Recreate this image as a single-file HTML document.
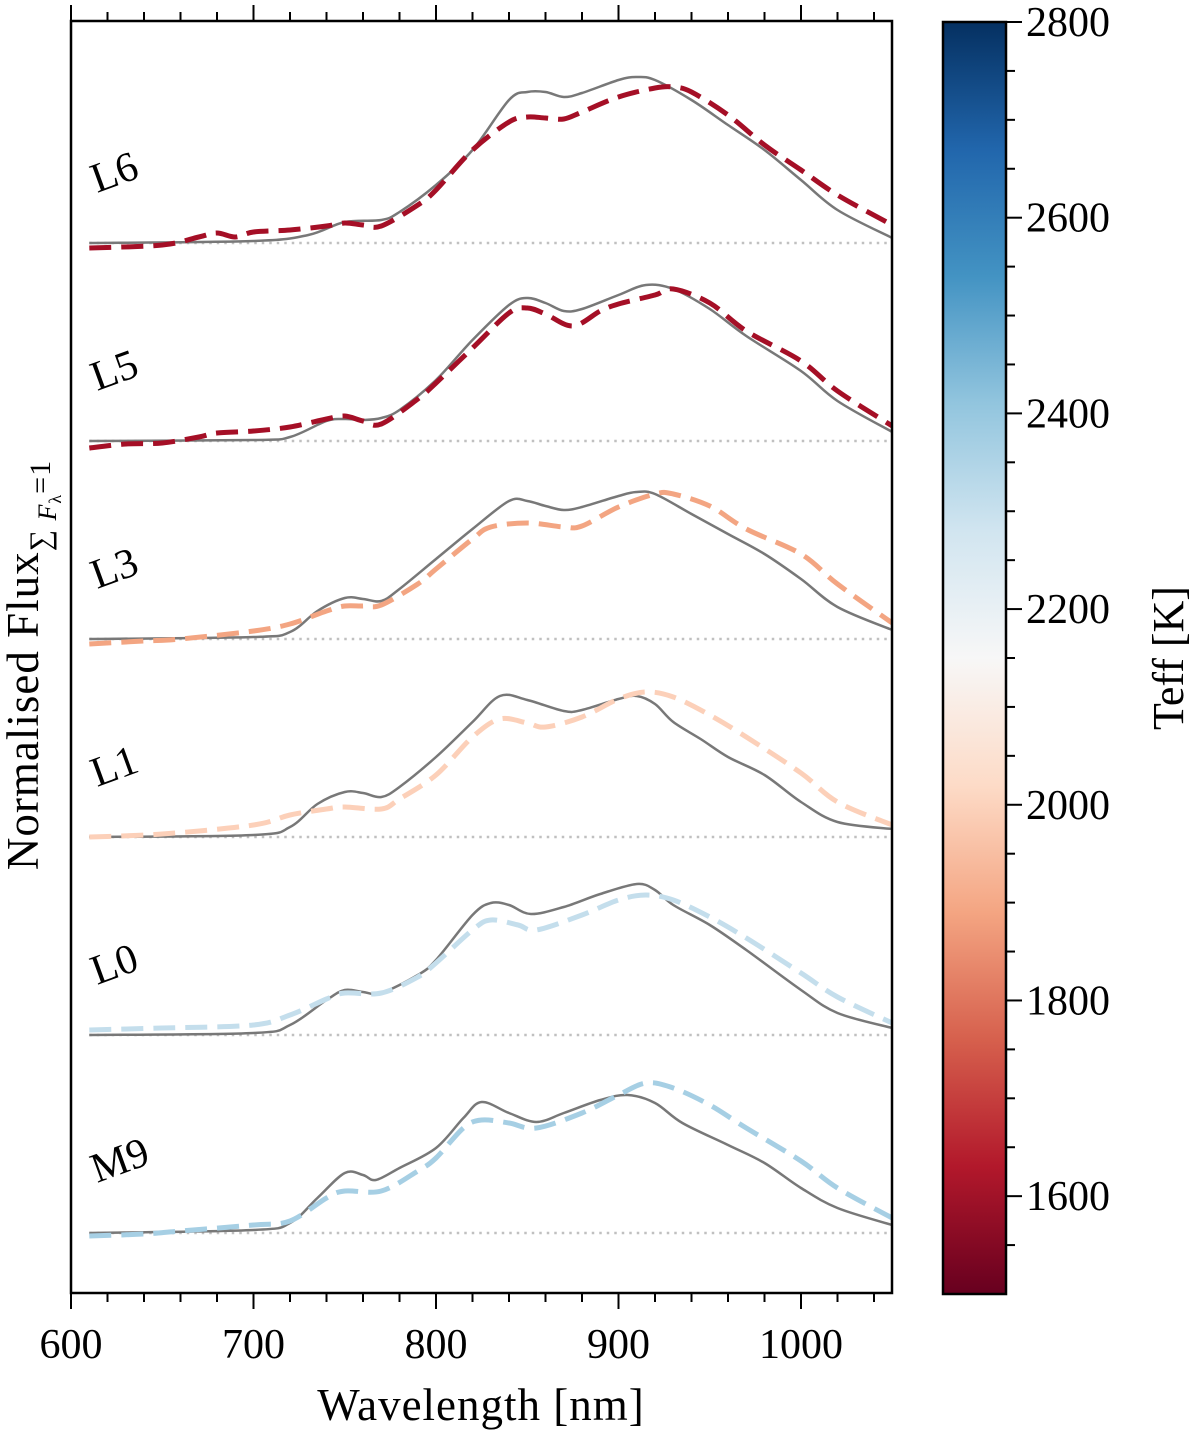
<!DOCTYPE html>
<html><head><meta charset="utf-8"><style>
body{margin:0;background:#fff;width:1200px;height:1437px;overflow:hidden}
svg text{font-family:"Liberation Serif",serif;fill:#000}
</style></head><body>
<svg id="chart" width="1200" height="1437" viewBox="0 0 1200 1437" xmlns="http://www.w3.org/2000/svg">
<defs>
<linearGradient id="rdbu" x1="0" y1="1" x2="0" y2="0">
<stop offset="0" stop-color="#67001f"/><stop offset="0.1" stop-color="#b2182b"/>
<stop offset="0.2" stop-color="#d6604d"/><stop offset="0.3" stop-color="#f4a582"/>
<stop offset="0.4" stop-color="#fddbc7"/><stop offset="0.5" stop-color="#f7f7f7"/>
<stop offset="0.6" stop-color="#d1e5f0"/><stop offset="0.7" stop-color="#92c5de"/>
<stop offset="0.8" stop-color="#4393c3"/><stop offset="0.9" stop-color="#2166ac"/>
<stop offset="1" stop-color="#053061"/>
</linearGradient>
<clipPath id="plotclip"><rect x="71" y="21" width="821" height="1272"/></clipPath>
</defs>
<g id="series" clip-path="url(#plotclip)"></g>
<g id="axes"></g>
</svg>
<script>
const NS='http://www.w3.org/2000/svg';
const svg=document.getElementById('chart');
const gS=document.getElementById('series');
const gA=document.getElementById('axes');

const xTicks=[600,700,800,900,1000];
const cbTicks=[1600,1800,2000,2200,2400,2600,2800];
const labels=['L6','L5','L3','L1','L0','M9'];
const offsets=[9.9,7.92,5.94,3.96,1.98,0];
const colors=['#a50f26','#a50f26','#f3a582','#fcd0b9','#c4deec','#a6cfe4'];

const refL6=[[610,0],[700,.02],[730,.08],[750,.21],[770,.23],[780,.31],[800,.58],[820,.93],[840,1.43],[850,1.51],[860,1.51],[870,1.46],[880,1.5],[900,1.63],[910,1.66],[920,1.63],[940,1.43],[960,1.18],[980,.93],[1000,.63],[1020,.33],[1050,.05]];
const fitL6=[[610,-.05],[650,-.02],[670,.06],[680,.1],[690,.06],[700,.11],[720,.13],[740,.17],[750,.2],[760,.18],[770,.17],[790,.38],[800,.53],[820,.93],[840,1.21],[850,1.26],[860,1.25],[870,1.24],[880,1.31],[900,1.46],[920,1.55],[930,1.56],[940,1.51],[960,1.28],[980,.98],[1000,.73],[1020,.48],[1050,.18]];
const refL5=[[610,0],[700,.01],[720,.04],[740,.2],[750,.22],[760,.21],[770,.23],[780,.31],[800,.61],[820,1.01],[840,1.36],[850,1.43],[860,1.38],[870,1.3],[880,1.32],[900,1.46],[915,1.56],[930,1.52],[950,1.32],[970,1.05],[1000,.7],[1020,.4],[1050,.09]];
const fitL5=[[610,-.07],[630,-.03],[650,-.02],[670,.04],[680,.08],[700,.1],[720,.14],[740,.22],[750,.25],[760,.2],[770,.17],[790,.42],[800,.58],[820,.93],[840,1.28],[850,1.33],[860,1.27],[875,1.15],[890,1.3],[900,1.37],[920,1.46],[930,1.52],[950,1.38],[970,1.1],[1000,.8],[1020,.5],[1050,.15]];
const refL3=[[610,0],[700,.02],[720,.07],[735,.28],[750,.41],[760,.4],[770,.38],[780,.5],[800,.8],[820,1.1],[840,1.38],[850,1.38],[860,1.33],[870,1.29],[880,1.32],[900,1.43],[910,1.47],[920,1.45],[940,1.25],[960,1.05],[980,.85],[1000,.6],[1020,.32],[1050,.09]];
const fitL3=[[610,-.05],[640,-.02],[660,0],[700,.08],[720,.15],[740,.28],[750,.33],[760,.33],[770,.34],[790,.55],[800,.7],[820,1],[830,1.12],[850,1.16],[870,1.12],[880,1.13],[900,1.32],[920,1.45],[930,1.45],[950,1.33],[970,1.1],[1000,.85],[1020,.55],[1050,.16]];
const refL1=[[610,0],[700,.02],[720,.1],[735,.33],[750,.45],[760,.44],[770,.4],[780,.5],[800,.8],[820,1.15],[835,1.41],[850,1.37],[870,1.26],[880,1.27],[900,1.38],[910,1.41],[920,1.33],[930,1.15],[945,.98],[960,.8],[980,.62],[1000,.35],[1020,.15],[1050,.08]];
const fitL1=[[610,0],[650,.03],[700,.12],[720,.22],[740,.28],[750,.3],[770,.28],[780,.38],[800,.62],[820,1],[835,1.18],[850,1.14],[860,1.1],[880,1.2],[900,1.38],[915,1.45],[930,1.4],[950,1.22],[970,1],[1000,.64],[1020,.35],[1050,.12]];
const refL0=[[610,0],[700,.02],[720,.1],[740,.35],[750,.45],[760,.43],[770,.42],[790,.6],[800,.75],[820,1.2],[830,1.32],[840,1.3],[852,1.21],[870,1.28],[890,1.41],[910,1.51],[920,1.45],[930,1.3],[950,1.1],[970,.85],[1000,.45],[1020,.22],[1050,.07]];
const fitL0=[[610,.05],[650,.07],[700,.1],[720,.2],[740,.36],[750,.42],[770,.42],[790,.58],[800,.72],[820,1.05],[830,1.15],[845,1.1],[855,1.05],[880,1.2],[900,1.35],[915,1.4],[930,1.35],[950,1.18],[970,.97],[1000,.62],[1020,.38],[1050,.12]];
const refM9=[[610,0],[700,.03],[720,.1],[735,.35],[750,.6],[760,.58],[767,.53],[780,.65],[800,.85],[815,1.15],[825,1.31],[840,1.2],[855,1.11],[870,1.2],[890,1.33],[905,1.38],[920,1.3],[935,1.1],[960,.88],[980,.7],[1000,.45],[1020,.25],[1050,.08]];
const fitM9=[[610,-.03],[640,-.01],[660,.02],[700,.08],[720,.12],[740,.35],[750,.42],[770,.42],[790,.62],[800,.75],[815,1.05],[825,1.13],[840,1.1],[855,1.05],[880,1.2],[900,1.38],[915,1.5],[930,1.45],[950,1.28],[970,1.05],[1000,.72],[1020,.45],[1050,.15]];
const refs=[refL6,refL5,refL3,refL1,refL0,refM9];
const fits=[fitL6,fitL5,fitL3,fitL1,fitL0,fitM9];

const X0=71,X1=892,Y0=21,Y1=1293;
const xs=w=>X0+(w-600)*(182.5/100);
const ys=v=>1233-v*100;
const cbTop=22,cbBot=1294,cbMin=1500,cbMax=2800;
const cs=t=>cbBot-(t-cbMin)/(cbMax-cbMin)*(cbBot-cbTop);

function mk(tag,attrs,parent){const e=document.createElementNS(NS,tag);for(const k in attrs)e.setAttribute(k,attrs[k]);parent.appendChild(e);return e;}
function smooth(pts){
  let d='M'+pts[0][0].toFixed(1)+','+pts[0][1].toFixed(1);
  for(let i=0;i<pts.length-1;i++){
    const p0=pts[Math.max(0,i-1)],p1=pts[i],p2=pts[i+1],p3=pts[Math.min(pts.length-1,i+2)];
    const c1=[p1[0]+(p2[0]-p0[0])/6,p1[1]+(p2[1]-p0[1])/6];
    const c2=[p2[0]-(p3[0]-p1[0])/6,p2[1]-(p3[1]-p1[1])/6];
    d+=`C${c1[0].toFixed(1)},${c1[1].toFixed(1)} ${c2[0].toFixed(1)},${c2[1].toFixed(1)} ${p2[0].toFixed(1)},${p2[1].toFixed(1)}`;
  }
  return d;
}

labels.forEach((lab,i)=>{
  const off=offsets[i];
  const base=mk('line',{x1:xs(610),x2:xs(1050),y1:ys(off),y2:ys(off),stroke:'#c0c0c0','stroke-width':2.5,'stroke-dasharray':'2.5,5'},gS);
  
  
  const r=mk('path',{d:smooth(refs[i].map(p=>[xs(p[0]),ys(p[1]+off)])),fill:'none',stroke:'#787878','stroke-width':2.5},gS);
  
  
  const f=mk('path',{d:smooth(fits[i].map(p=>[xs(p[0]),ys(p[1]+off)])),fill:'none',stroke:colors[i],'stroke-width':5,'stroke-dasharray':'22,10'},gS);
  
  
  const t=mk('text',{x:0,y:0,'font-size':42,transform:`translate(97,${ys(off)-50}) rotate(-20)`},gS);
  t.textContent=lab;
  
  
});

const fr=mk('rect',{x:X0,y:Y0,width:X1-X0,height:Y1-Y0,fill:'none',stroke:'#000','stroke-width':2.5},gA);


for(let w=600;w<=1050;w+=20){
  const maj=xTicks.includes(w);const L=maj?16:9;
  mk('line',{x1:xs(w),x2:xs(w),y1:Y0,y2:Y0-L,stroke:'#000','stroke-width':2},gA);
  mk('line',{x1:xs(w),x2:xs(w),y1:Y1,y2:Y1+L,stroke:'#000','stroke-width':2},gA);
}
xTicks.forEach(w=>{
  const t=mk('text',{x:xs(w),y:1358,'font-size':42,'text-anchor':'middle'},gA);
  t.textContent=w;
  
  
});
const xt=mk('text',{x:481,y:1420,'font-size':45,'text-anchor':'middle','letter-spacing':1},gA);
xt.textContent='Wavelength [nm]';


const yt=mk('text',{x:0,y:0,'font-size':45,'text-anchor':'middle',transform:'translate(38,665) rotate(-90)','letter-spacing':1},gA);
yt.innerHTML='Normalised Flux<tspan font-size="30" dy="12">∑ </tspan><tspan font-size="26" font-style="italic" dy="6">F</tspan><tspan font-size="18" dy="5">λ</tspan><tspan font-size="30" dy="-11">=1</tspan>';



const cb=mk('rect',{x:943,y:cbTop,width:63,height:cbBot-cbTop,fill:'url(#rdbu)',stroke:'#000','stroke-width':2.5},gA);


for(let t=1550;t<=2800;t+=50){
  const maj=cbTicks.includes(t);
  mk('line',{x1:1006,x2:1006+(maj?16:9),y1:cs(t),y2:cs(t),stroke:'#000','stroke-width':2},gA);
}
cbTicks.forEach(t=>{
  const e=mk('text',{x:1026,y:cs(t)+14,'font-size':42},gA);
  e.textContent=t;
  
  
});
const ct=mk('text',{x:0,y:0,'font-size':44,'text-anchor':'middle',transform:'translate(1183,658) rotate(-90)'},gA);
ct.textContent='Teff [K]';


</script>
</body></html>
